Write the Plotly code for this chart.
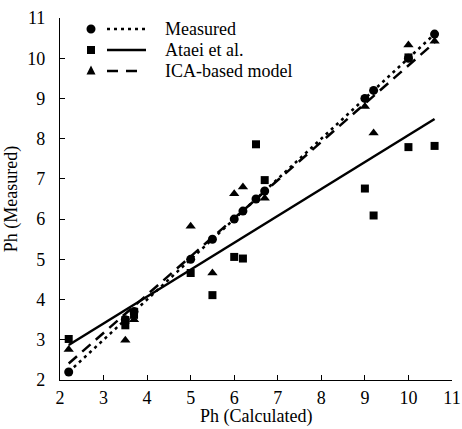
import plotly.graph_objects as go

# ---------------- data ----------------
meas_x = [2.2, 3.5, 3.7, 5.0, 5.5, 6.0, 6.2, 6.5, 6.7, 9.0, 9.2, 10.0, 10.6]
meas_y = [2.2, 3.5, 3.7, 5.0, 5.5, 6.0, 6.2, 6.5, 6.7, 9.0, 9.2, 10.0, 10.6]

ataei_x = [2.2, 3.5, 3.5, 3.7, 5.0, 5.5, 6.0, 6.2, 6.5, 6.7, 9.0, 9.2, 10.0, 10.0, 10.6]
ataei_y = [3.02, 3.36, 3.49, 3.62, 4.66, 4.11, 5.06, 5.02, 7.86, 6.97, 6.76, 6.09, 7.79, 10.02, 7.82]

ica_x = [2.2, 3.5, 3.7, 5.0, 5.5, 6.0, 6.2, 6.7, 9.0, 9.2, 10.0, 10.6]
ica_y = [2.76, 2.99, 3.50, 5.82, 4.66, 6.63, 6.80, 6.52, 8.80, 8.14, 10.33, 10.42]

# linear trendlines (slope, intercept)
trend_names = ["Measured", "Ataei et al.", "ICA-based model"]
trend_slope = [1.0, 0.669, 0.95]
trend_intercept = [0.0, 1.398, 0.32]
trend_range = [2.2, 10.6]

tick_vals = [2, 3, 4, 5, 6, 7, 8, 9, 10, 11]

# ---------------- styling ----------------
FONT = "Liberation Serif"
FS = 18
W, H = 462, 429
ML, MR, MT, MB = 60, 10, 18, 49
PW, PH = W - ML - MR, H - MT - MB
line_dash = ["3px,4px", "solid", "11px,7px"]
symbols = ["circle", "square", "triangle-up"]

fig = go.Figure()

# trendlines
for name, s, b, d in zip(trend_names, trend_slope, trend_intercept, line_dash):
    xs = trend_range
    ys = [s * v + b for v in xs]
    fig.add_trace(go.Scatter(x=xs, y=ys, mode="lines", showlegend=False,
                             line=dict(color="black", width=2.5, dash=d),
                             hoverinfo="skip"))

# points
fig.add_trace(go.Scatter(x=ataei_x, y=ataei_y, mode="markers", name="Ataei et al.",
                         marker=dict(symbol="square", size=8, color="black"), showlegend=False))
fig.add_trace(go.Scatter(x=ica_x, y=ica_y, mode="markers", name="ICA-based model",
                         marker=dict(symbol="triangle-up", size=9, color="black"), showlegend=False))
fig.add_trace(go.Scatter(x=meas_x, y=meas_y, mode="markers", name="Measured",
                         marker=dict(symbol="circle", size=9, color="black"), showlegend=False))

# ---------------- manual legend (paper coordinates) ----------------
def px(xp):
    return (xp - ML) / PW

def py(yp):
    return 1 - (yp - MT) / PH

shapes = []
annotations = []
rows = [29, 50, 71]
mx = 91
for i, (name, yr) in enumerate(zip(trend_names, rows)):
    r = 4.5
    if symbols[i] == "circle":
        shapes.append(dict(type="circle", xref="paper", yref="paper",
                           x0=px(mx - r), x1=px(mx + r), y0=py(yr + r), y1=py(yr - r),
                           fillcolor="black", line=dict(width=0)))
    elif symbols[i] == "square":
        r = 4
        shapes.append(dict(type="rect", xref="paper", yref="paper",
                           x0=px(mx - r), x1=px(mx + r), y0=py(yr + r), y1=py(yr - r),
                           fillcolor="black", line=dict(width=0)))
    else:
        r = 4.5
        path = "M {} {} L {} {} L {} {} Z".format(px(mx - r), py(yr + r - 1),
                                                   px(mx + r), py(yr + r - 1),
                                                   px(mx), py(yr - r - 1))
        shapes.append(dict(type="path", xref="paper", yref="paper", path=path,
                           fillcolor="black", line=dict(width=0)))
    x_end = 146 if i < 2 else 138
    dash = {"3px,4px": "3px,4px", "solid": "solid", "11px,7px": "11px,8px"}[line_dash[i]]
    shapes.append(dict(type="line", xref="paper", yref="paper",
                       x0=px(107), x1=px(x_end), y0=py(yr), y1=py(yr),
                       line=dict(color="black", width=2.5, dash=dash)))
    annotations.append(dict(xref="paper", yref="paper", x=px(163), y=py(yr),
                            text=name, showarrow=False, xanchor="left", yanchor="middle",
                            font=dict(family=FONT, size=FS, color="black")))

# x-axis title as an annotation placed just below the tick labels
annotations.append(dict(xref="paper", yref="paper", x=0.5, y=py(429), yanchor="bottom",
                        xanchor="center", text="Ph (Calculated)", showarrow=False,
                        font=dict(family=FONT, size=FS, color="black")))

axis_common = dict(
    tickmode="array", tickvals=tick_vals, ticktext=[str(v) for v in tick_vals],
    range=[2, 11], showgrid=False, zeroline=False, automargin=False,
    showline=True, linecolor="black", linewidth=1.2,
    ticks="inside", ticklen=5, tickcolor="black", tickwidth=1.2,
    tickfont=dict(family=FONT, size=FS, color="black"),
    mirror=False,
)

fig.update_layout(
    template="none",
    width=W, height=H,
    margin=dict(l=ML, r=MR, t=MT, b=MB, pad=0, autoexpand=False),
    paper_bgcolor="white", plot_bgcolor="white",
    xaxis=dict(**axis_common, ticklabelstandoff=1),
    yaxis=dict(**axis_common, ticklabelstandoff=10,
               title=dict(text="Ph (Measured)", standoff=4,
                          font=dict(family=FONT, size=FS, color="black"))),
    shapes=shapes, annotations=annotations,
    showlegend=False,
)

fig.write_html("out.html", config={"displayModeBar": False})

# remove the default page margin so the figure fills the window exactly
with open("out.html", "r", encoding="utf-8") as f:
    html = f.read()
html = html.replace("<head>", "<head><style>html,body{margin:0;padding:0;overflow:hidden;}</style>", 1)
with open("out.html", "w", encoding="utf-8") as f:
    f.write(html)
